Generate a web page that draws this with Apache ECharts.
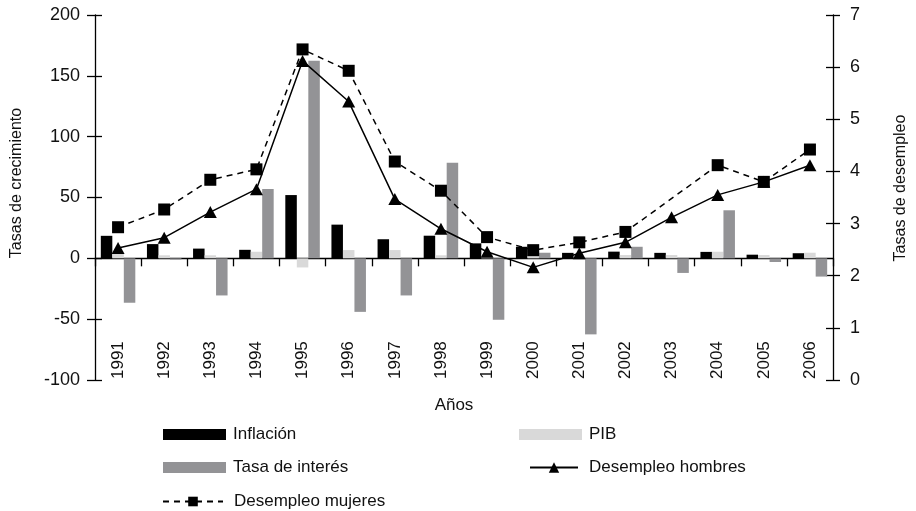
<!DOCTYPE html>
<html>
<head>
<meta charset="utf-8">
<script src="https://cdn.jsdelivr.net/npm/echarts@6/dist/echarts.min.js"></script>
<style>
  html, body { margin: 0; padding: 0; background: #fff; }
  #chart { width: 916px; height: 511px; }
</style>
</head>
<body>
<div id="chart"></div>
<script>
const years = ['1991', '1992', '1993', '1994', '1995', '1996', '1997', '1998',
  '1999', '2000', '2001', '2002', '2003', '2004', '2005', '2006']

// tasas de crecimiento (eje izquierdo)
const inflacion = [18.5, 11.7, 8.0, 7.0, 52.0, 27.7, 15.7, 18.6, 12.3, 9.5, 4.5, 5.5, 4.5, 5.3, 3.0, 4.2]
const pib = [4.5, 2.5, 2.5, 5.4, -7.5, 6.8, 6.8, 2.5, 3.5, 5.0, -0.3, 2.7, 2.7, 5.4, 2.7, 4.6]
const tasaInteres = [-36.5, -1, -30.5, 57, 162.5, -44, -30.5, 78.5, -50.5, 4.6, -62.5, 9.5, -12, 39.5, -3, -15]

// tasas de desempleo (eje derecho)
const desempleoHombres = [2.53, 2.73, 3.22, 3.66, 6.12, 5.34, 3.47, 2.90, 2.46, 2.16, 2.43, 2.64, 3.12, 3.55, 3.80, 4.12]
const desempleoMujeres = [2.93, 3.27, 3.84, 4.04, 6.34, 5.93, 4.19, 3.63, 2.74, 2.49, 2.64, 2.84, null, 4.12, 3.80, 4.42]

const leftTicks = { min: -100, max: 200, interval: 50 }
const rightTicks = { min: 0, max: 7, interval: 1 }

const font = "'Liberation Sans', Arial, sans-serif"
const txt = { color: '#111', fontFamily: font, fontSize: 17 }
const tickTxt = { color: '#111', fontFamily: font, fontSize: 18 }

const chart = echarts.init(document.getElementById('chart'))

const barCommon = {
  type: 'bar',
  barWidth: 11.5,
  barGap: '0%',
  xAxisIndex: 0,
  yAxisIndex: 0
}

const legendAt = (name, left, top, extra) => Object.assign({
  data: [{ name: name, icon: 'rect' }],
  left: left,
  top: top,
  itemWidth: 63,
  itemHeight: 11,
  selectedMode: false,
  textStyle: Object.assign({}, txt, { padding: [0, 0, 0, 2] })
}, extra || {})

const option = {
  backgroundColor: '#fff',
  animation: false,
  grid: { left: 95, right: 83, top: 15, bottom: 131 },
  legend: [
    legendAt('Inflación', 158, 421),
    legendAt('PIB', 514, 421),
    legendAt('Tasa de interés', 158, 454),
    legendAt('Desempleo hombres', 524, 454, {
      data: ['Desempleo hombres'],
      itemWidth: 48, itemHeight: 13,
      textStyle: Object.assign({}, txt, { padding: [0, 0, 0, 6] })
    }),
    legendAt('Desempleo mujeres', 157, 488, {
      data: ['Desempleo mujeres'],
      itemWidth: 60, itemHeight: 12,
      textStyle: Object.assign({}, txt, { padding: [0, 0, 0, 6] })
    })
  ],
  graphic: [
    {
      type: 'text', x: 17, y: 183, rotation: Math.PI / 2,
      style: { text: 'Tasas de crecimiento', fill: '#111', font: '16px ' + font, align: 'center', verticalAlign: 'middle' }
    },
    {
      type: 'text', x: 901, y: 188, rotation: Math.PI / 2,
      style: { text: 'Tasas de desempleo', fill: '#111', font: '16px ' + font, align: 'center', verticalAlign: 'middle' }
    },
    {
      type: 'text', x: 454, y: 405,
      style: { text: 'Años', fill: '#111', font: '17px ' + font, align: 'center', verticalAlign: 'middle' }
    }
  ],
  xAxis: [
    {
      type: 'category',
      data: years,
      axisLine: { onZero: true, lineStyle: { color: '#000', width: 1.3 } },
      axisTick: { show: true, interval: 0, length: 8, lineStyle: { color: '#000', width: 1.3 } },
      axisLabel: { show: false },
      splitLine: { show: false }
    },
    {
      type: 'category',
      data: years,
      position: 'bottom',
      axisLine: { show: false, onZero: false },
      axisTick: { show: false },
      axisLabel: Object.assign({}, txt, { interval: 0, rotate: 90, inside: true, margin: 1 })
    }
  ],
  yAxis: [
    Object.assign({
      type: 'value',
      position: 'left',
      axisLine: { show: true, lineStyle: { color: '#000', width: 1.3 } },
      axisTick: { show: true, length: 8, lineStyle: { color: '#000', width: 1.3 } },
      axisLabel: Object.assign({}, tickTxt, { margin: 15 }),
      splitLine: { show: false }
    }, leftTicks),
    Object.assign({
      type: 'value',
      position: 'right',
      axisLine: { show: true, lineStyle: { color: '#000', width: 1.3 } },
      axisTick: { show: true, length: 7, lineStyle: { color: '#000', width: 1.3 } },
      axisLabel: Object.assign({}, tickTxt, { margin: 17 }),
      splitLine: { show: false }
    }, rightTicks),
    // ticks del lado interior
    Object.assign({
      type: 'value',
      position: 'left',
      axisLine: { show: false },
      axisTick: { show: true, inside: true, length: 7, lineStyle: { color: '#000', width: 1.3 } },
      axisLabel: { show: false },
      splitLine: { show: false }
    }, leftTicks),
    Object.assign({
      type: 'value',
      position: 'right',
      axisLine: { show: false },
      axisTick: { show: true, inside: true, length: 7, lineStyle: { color: '#000', width: 1.3 } },
      axisLabel: { show: false },
      splitLine: { show: false }
    }, rightTicks)
  ],
  series: [
    Object.assign({ name: 'Inflación', data: inflacion, itemStyle: { color: '#000' } }, barCommon),
    Object.assign({ name: 'PIB', data: pib, itemStyle: { color: '#d9d9d9' } }, barCommon),
    Object.assign({ name: 'Tasa de interés', data: tasaInteres, itemStyle: { color: '#939396' } }, barCommon),
    {
      name: 'Desempleo hombres',
      type: 'line',
      xAxisIndex: 0,
      yAxisIndex: 1,
      data: desempleoHombres,
      symbol: 'triangle',
      symbolSize: [13, 12],
      itemStyle: { color: '#000' },
      lineStyle: { color: '#000', width: 1.5 },
      z: 5
    },
    {
      name: 'Desempleo mujeres',
      type: 'line',
      xAxisIndex: 0,
      yAxisIndex: 1,
      data: desempleoMujeres,
      connectNulls: true,
      symbol: 'rect',
      symbolSize: 12,
      itemStyle: { color: '#000' },
      lineStyle: { color: '#000', width: 1.5, type: [6, 5] },
      z: 6
    }
  ]
}

chart.setOption(option)
</script>
</body>
</html>
